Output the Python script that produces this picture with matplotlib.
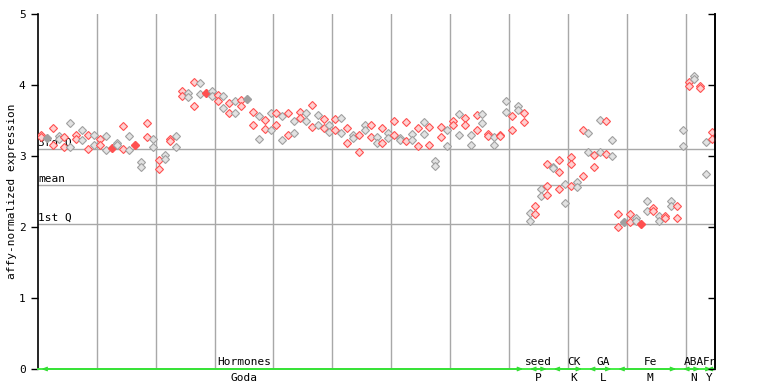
import numpy as np
import matplotlib
matplotlib.use("Agg")
import matplotlib.pyplot as plt
from matplotlib.transforms import blended_transform_factory

# ------------------ DATE ------------------
# replicate values per sample, grouped by experiment
goda = [
    [3.30, 3.27], [3.25, 3.25], [3.40, 3.16], [3.28, 3.24], [3.27, 3.13],
    [3.46, 3.13], [3.30, 3.24], [3.36, 3.23], [3.30, 3.10], [3.30, 3.16],
    [3.24, 3.16], [3.28, 3.08], [3.11, 3.11], [3.18, 3.15], [3.42, 3.10],
    [3.28, 3.08], [3.15, 3.15], [2.91, 2.85], [3.46, 3.27], [3.24, 3.13],
    [2.95, 2.82], [3.02, 2.96], [3.24, 3.21], [3.28, 3.13], [3.91, 3.85],
    [3.89, 3.83], [4.04, 3.71], [4.03, 3.88], [3.89, 3.89], [3.92, 3.85],
    [3.86, 3.78], [3.85, 3.68], [3.74, 3.60], [3.77, 3.60], [3.79, 3.71],
    [3.80, 3.80], [3.62, 3.43], [3.57, 3.24], [3.51, 3.38], [3.60, 3.37],
    [3.61, 3.44], [3.56, 3.23], [3.60, 3.30], [3.49, 3.33], [3.62, 3.54],
    [3.61, 3.49], [3.72, 3.41], [3.58, 3.44], [3.52, 3.40], [3.43, 3.34],
    [3.52, 3.37], [3.54, 3.33], [3.39, 3.18], [3.30, 3.25], [3.30, 3.05],
    [3.43, 3.37], [3.43, 3.27], [3.27, 3.19], [3.40, 3.19], [3.33, 3.25],
    [3.50, 3.30], [3.25, 3.22], [3.48, 3.21], [3.31, 3.23], [3.40, 3.14],
    [3.48, 3.31], [3.41, 3.16], [2.93, 2.86], [3.41, 3.27], [3.36, 3.14],
    [3.50, 3.43], [3.59, 3.30], [3.54, 3.44], [3.30, 3.16], [3.58, 3.36],
    [3.59, 3.46], [3.31, 3.28], [3.27, 3.16], [3.30, 3.28], [3.78, 3.62],
    [3.57, 3.37], [3.71, 3.65], [3.60, 3.48],
]
seed = [[2.20, 2.09], [2.30, 2.18], [2.53, 2.43], [2.89, 2.58, 2.45]]
ck = [[2.85, 2.83], [2.94, 2.77, 2.54], [2.61, 2.34], [2.98, 2.89, 2.58],
      [2.63, 2.57], [3.37, 2.72]]
ga = [[3.33, 3.05], [3.02, 2.85], [3.51, 3.06], [3.50, 3.03], [3.22, 3.00]]
fe = [[2.18, 2.00], [2.07, 2.07], [2.18, 2.07], [2.13, 2.09], [2.04, 2.04],
      [2.37, 2.22], [2.27, 2.22], [2.16, 2.08], [2.15, 2.12], [2.36, 2.30],
      [2.30, 2.13]]
aba = [[3.37, 3.14], [4.04, 3.99], [4.13, 4.09], [3.99, 3.96]]
fr = [[3.20, 2.75], [3.34, 3.24]]

groups = [goda, seed, ck, ga, fe, aba, fr]
top_labels = ["Hormones", "seed", "CK", "GA", "Fe", "ABA", "Fr"]
bottom_labels = ["Goda", "P", "K", "L", "M", "N", "Y"]
label_pos = [35.0, 85.0, 91.0, 96.0, 104.0, 111.4, 114.1]

q3, mean, q1 = 3.10, 2.59, 2.04

# ------------------ FIGURA ------------------
mono = "DejaVu Sans Mono"
plt.rcParams["font.family"] = mono
fig = plt.figure(figsize=(7.68, 3.84), dpi=100)
ax = fig.add_axes([38 / 768, 1 - 369 / 384, 677 / 768, 355 / 384])

n_total = sum(len(g) for g in groups)
ax.set_xlim(0, n_total)
ax.set_ylim(0, 5)

# grid
for gx in range(10, n_total, 10):
    ax.axvline(gx, color="#a8a8a8", lw=1, zorder=1)
for gy in (q3, mean, q1):
    ax.axhline(gy, color="#a8a8a8", lw=1, zorder=1)

ax.text(0.05, q3 + 0.02, "3rd Q", fontsize=8, va="bottom", ha="left")
ax.text(0.05, mean + 0.02, "mean", fontsize=8, va="bottom", ha="left")
ax.text(0.05, q1 + 0.02, "1st Q", fontsize=8, va="bottom", ha="left")

# puncte
red_e, red_f = "#ff5050", "#ffd0d0"
gray_e, gray_f = "#a0a0a0", "#e2e2e2"
i = 0
for g in groups:
    for reps in g:
        ec, fc = (red_e, red_f) if i % 2 == 0 else (gray_e, gray_f)
        for k, v in enumerate(reps):
            face = fc
            if any(abs(v - w) < 0.015 for j, w in enumerate(reps) if j != k):
                face = ec
            ax.plot(i + 0.5, v, marker="D", ms=3.8, mec=ec, mfc=face,
                    mew=0.8, ls="none", zorder=3)
        i += 1

# linie verde + etichete grupuri
ax.axhline(0, color="#44ee44", lw=1.4, zorder=4, clip_on=False)
trans = blended_transform_factory(ax.transData, ax.transAxes)
start = 0
for g, tl, bl, lx in zip(groups, top_labels, bottom_labels, label_pos):
    end = start + len(g)
    ax.annotate("", xy=(end - 0.1, 0), xytext=(start + 0.1, 0),
                arrowprops=dict(arrowstyle="<->,head_length=0.3,head_width=0.12",
                                color="#33dd33", lw=1.0),
                annotation_clip=False, zorder=5)
    ax.text(lx, 0.006, tl, fontsize=8, ha="center", va="bottom",
            transform=trans, clip_on=False)
    ax.text(lx, -0.012, bl, fontsize=8, ha="center", va="top",
            transform=trans, clip_on=False)
    start = end

# axe
ax.spines["top"].set_visible(False)
ax.spines["bottom"].set_visible(False)
ax.spines["left"].set_linewidth(1.2)
ax.spines["right"].set_linewidth(1.2)
ax.set_xticks([])
ax.set_yticks(range(6))
ax.tick_params(axis="y", direction="out", length=5, width=1, labelsize=8, pad=4)
ax.set_ylabel("affy-normalized expression", fontsize=8, labelpad=1)

ax2 = ax.twinx()
ax2.set_ylim(0, 5)
ax2.set_yticks(range(6))
ax2.tick_params(axis="y", direction="in", length=5, width=1, labelright=False)
for s in ("top", "bottom", "left"):
    ax2.spines[s].set_visible(False)
ax2.spines["right"].set_linewidth(1.2)

fig.savefig("out.png", dpi=100)
